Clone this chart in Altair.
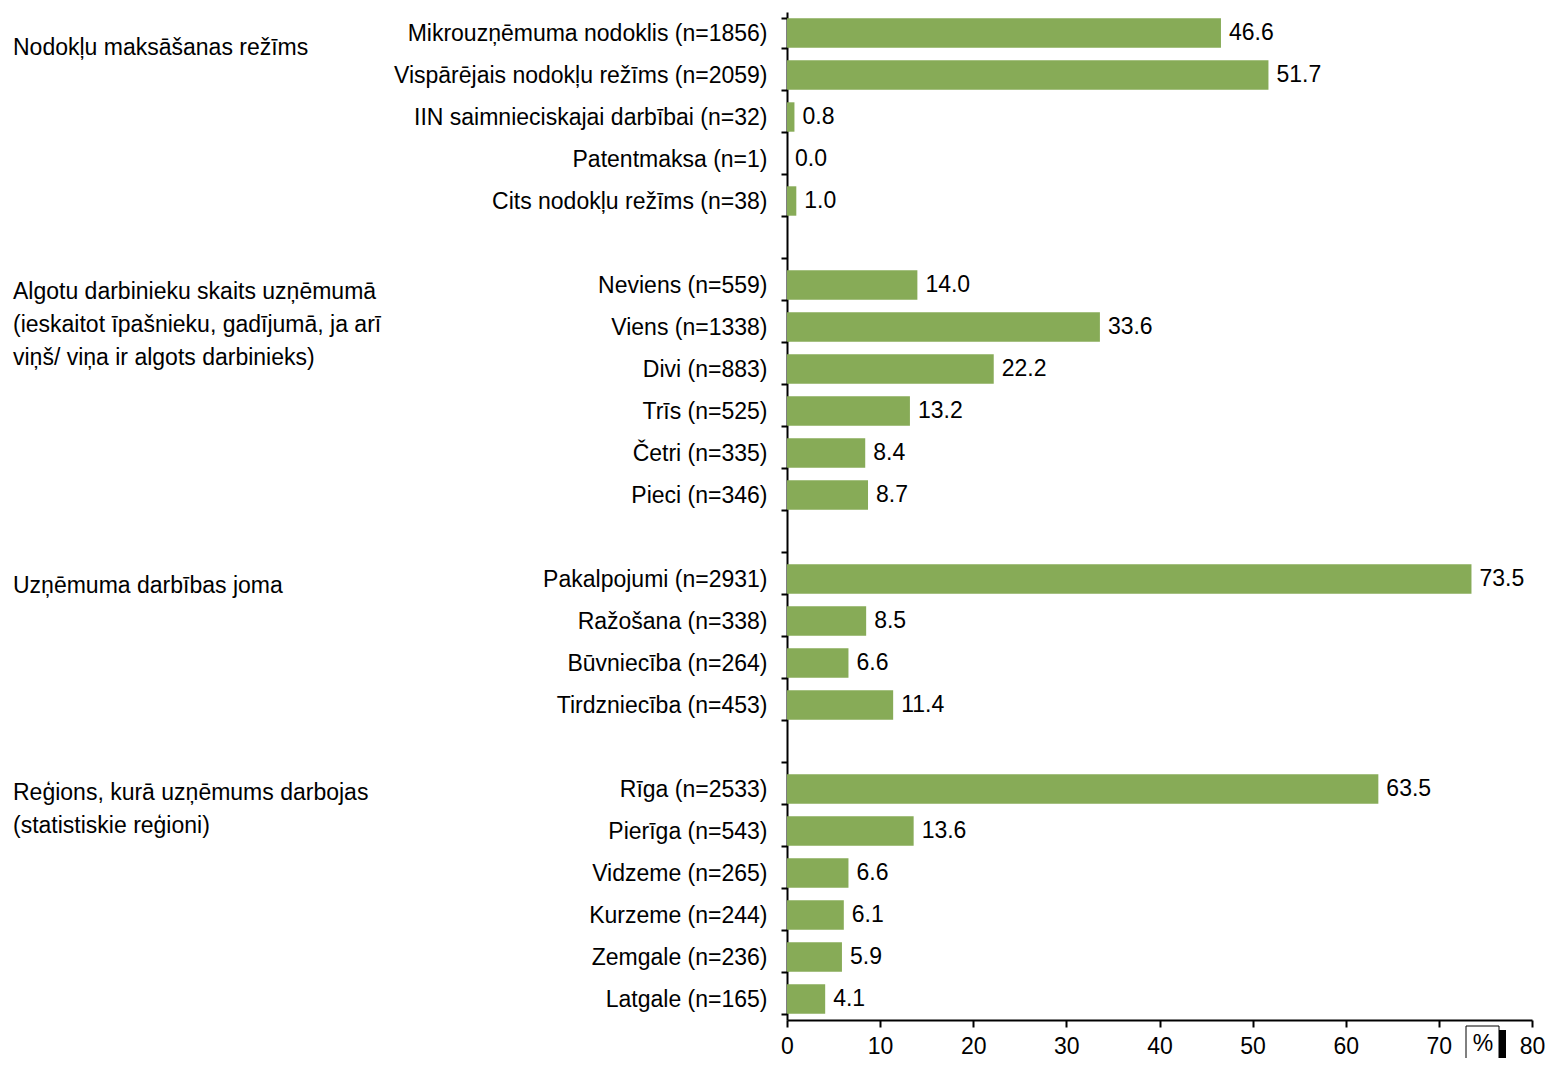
import altair as alt
import pandas as pd

FONT = "Liberation Sans"
GREEN = "#87AB57"
FS = 23

group_titles = [
    "Nodokļu maksāšanas režīms",
    "Algotu darbinieku skaits uzņēmumā\n(ieskaitot īpašnieku, gadījumā, ja arī\nviņš/ viņa ir algots darbinieks)",
    "Uzņēmuma darbības joma",
    "Reģions, kurā uzņēmums darbojas\n(statistiskie reģioni)",
]

tax_labels = [
    "Mikrouzņēmuma nodoklis (n=1856)",
    "Vispārējais nodokļu režīms (n=2059)",
    "IIN saimnieciskajai darbībai (n=32)",
    "Patentmaksa (n=1)",
    "Cits nodokļu režīms (n=38)",
]
tax_values = [46.6, 51.7, 0.8, 0.0, 1.0]

staff_labels = [
    "Neviens (n=559)",
    "Viens (n=1338)",
    "Divi (n=883)",
    "Trīs (n=525)",
    "Četri (n=335)",
    "Pieci (n=346)",
]
staff_values = [14.0, 33.6, 22.2, 13.2, 8.4, 8.7]

field_labels = [
    "Pakalpojumi (n=2931)",
    "Ražošana (n=338)",
    "Būvniecība (n=264)",
    "Tirdzniecība (n=453)",
]
field_values = [73.5, 8.5, 6.6, 11.4]

region_labels = [
    "Rīga (n=2533)",
    "Pierīga (n=543)",
    "Vidzeme (n=265)",
    "Kurzeme (n=244)",
    "Zemgale (n=236)",
    "Latgale (n=165)",
]
region_values = [63.5, 13.6, 6.6, 6.1, 5.9, 4.1]

x_ticks = [0, 10, 20, 30, 40, 50, 60, 70, 80]

blocks = [
    (tax_labels, tax_values),
    (staff_labels, staff_values),
    (field_labels, field_values),
    (region_labels, region_values),
]

# build y domain with blank separator rows
domain = []
rows = []
for i, (labs, vals) in enumerate(blocks):
    for l, v in zip(labs, vals):
        domain.append(l)
        rows.append({"cat": l, "val": v})
    if i < len(blocks) - 1:
        domain.append(" " * (i + 1))

df = pd.DataFrame(rows)

W, H = 745, 1008

yscale = alt.Scale(domain=domain, paddingInner=0.3, paddingOuter=0.15)

y_main = alt.Y(
    "cat:N",
    sort=domain,
    scale=yscale,
    axis=alt.Axis(
        title=None,
        domainColor="black",
        domainWidth=2,
        tickColor="black",
        tickWidth=2,
        tickSize=6,
        tickBand="extent",
        labelFontSize=FS,
        labelFont=FONT,
        labelColor="black",
        labelPadding=14,
        labelLimit=600,
    ),
)

x_main = alt.X(
    "val:Q",
    scale=alt.Scale(domain=[0, 80], nice=False),
    axis=alt.Axis(
        title=None,
        values=x_ticks,
        grid=False,
        domainColor="black",
        domainWidth=2,
        tickColor="black",
        tickWidth=2,
        tickSize=7,
        labelFontSize=FS,
        labelFont=FONT,
        labelColor="black",
        labelPadding=8,
        labelFlush=False,
    ),
)

bars = alt.Chart(df).mark_bar(color=GREEN).encode(x=x_main, y=y_main)

values_text = alt.Chart(df).mark_text(
    align="left", baseline="middle", dx=8, fontSize=FS, font=FONT, color="black"
).encode(
    x=alt.X("val:Q"),
    y=alt.Y("cat:N", sort=domain, scale=yscale),
    text=alt.Text("val:Q", format=".1f"),
)

# group titles, anchored to the first row of each group
group_offsets = [15, 7, 7, 4]
group_layers = []
for title, (labs, _), off in zip(group_titles, blocks, group_offsets):
    gdf = pd.DataFrame({"cat": [labs[0]], "title": [title]})
    group_layers.append(
        alt.Chart(gdf).mark_text(
            align="left",
            baseline="middle",
            dy=off,
            fontSize=FS,
            font=FONT,
            color="black",
            lineBreak="\n",
            lineHeight=33,
        ).encode(
            x=alt.value(-774),
            y=alt.Y("cat:N", sort=domain, scale=yscale),
            text="title:N",
        )
    )

anno = pd.DataFrame({"k": [0]})
pct_shadow = alt.Chart(anno).mark_rect(color="black").encode(
    x=alt.value(712), x2=alt.value(719), y=alt.value(1018), y2=alt.value(1050)
)
pct_box = alt.Chart(anno).mark_rect(fill="white", stroke="black", strokeWidth=1).encode(
    x=alt.value(679), x2=alt.value(712), y=alt.value(1014), y2=alt.value(1052)
)
pct_text = alt.Chart(anno).mark_text(
    fontSize=FS, font=FONT, color="black", align="center", baseline="middle"
).encode(x=alt.value(696), y=alt.value(1032), text=alt.value("%"))

chart = alt.layer(
    bars, values_text, *group_layers, pct_shadow, pct_box, pct_text
).properties(
    width=W,
    height=H,
    autosize=alt.AutoSizeParams(type="none"),
    padding={"left": 779, "top": 4, "right": 13, "bottom": 38},
).configure(font=FONT).configure_view(stroke=None)

chart.save("out.html", embed_options={"renderer": "svg", "actions": False})
